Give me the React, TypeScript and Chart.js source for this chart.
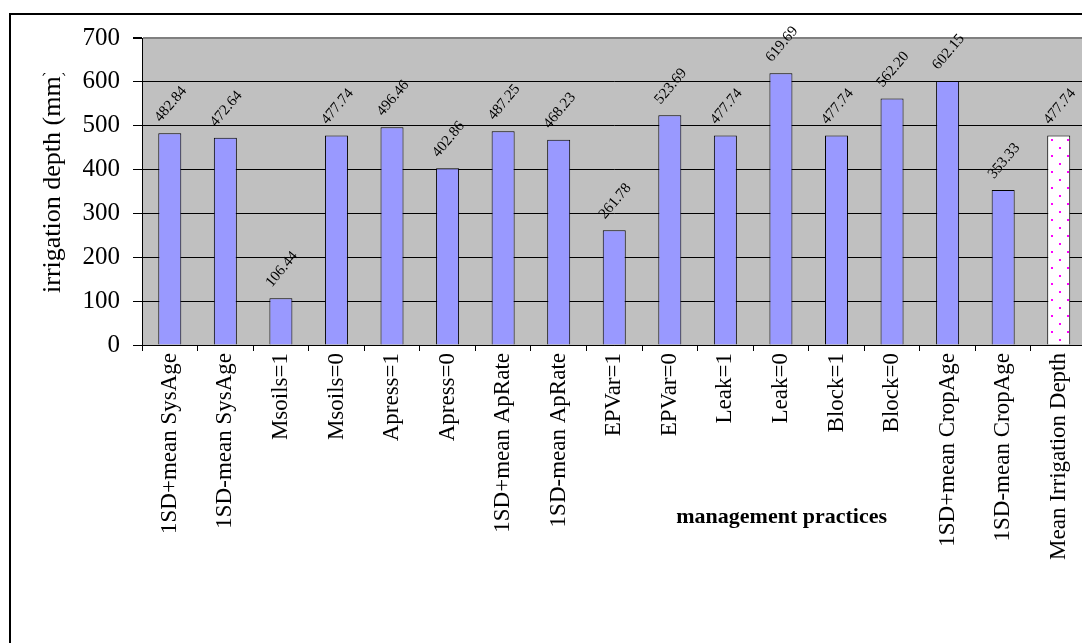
import React, { useEffect, useRef } from "react";
import { Chart, registerables } from "chart.js";

Chart.register(...registerables);

const categories = [
  "1SD+mean SysAge",
  "1SD-mean SysAge",
  "Msoils=1",
  "Msoils=0",
  "Apress=1",
  "Apress=0",
  "1SD+mean ApRate",
  "1SD-mean ApRate",
  "EPVar=1",
  "EPVar=0",
  "Leak=1",
  "Leak=0",
  "Block=1",
  "Block=0",
  "1SD+mean CropAge",
  "1SD-mean CropAge",
  "Mean Irrigation Depth",
];

const depthValues = [
  482.84, 472.64, 106.44, 477.74, 496.46, 402.86, 487.25, 468.23, 261.78,
  523.69, 477.74, 619.69, 477.74, 562.2, 602.15, 353.33, 477.74,
];

const yTicks = [0, 100, 200, 300, 400, 500, 600, 700];

const yTitle = "irrigation depth (mm)";
const xTitle = "management practices";

const SERIF = '"Liberation Serif", "Times New Roman", serif';

function makeDotPattern(): CanvasPattern | string {
  const c = document.createElement("canvas");
  c.width = 16;
  c.height = 16;
  const g = c.getContext("2d");
  if (!g) return "#ffffff";
  g.fillStyle = "#ffffff";
  g.fillRect(0, 0, 16, 16);
  g.fillStyle = "#ff00ff";
  g.fillRect(3, 3, 2, 2);
  g.fillRect(11, 11, 2, 2);
  const p = g.createPattern(c, "repeat");
  return p || "#ffffff";
}

export default function App() {
  const canvasRef = useRef<HTMLCanvasElement | null>(null);

  useEffect(() => {
    const canvas = canvasRef.current;
    if (!canvas) return;
    const pattern = makeDotPattern();
    const bg = depthValues.map((_, i) =>
      i === depthValues.length - 1 ? pattern : "#9999ff"
    );

    const decorPlugin = {
      id: "decor",
      beforeDraw(chart: any) {
        const { ctx, chartArea } = chart;
        ctx.save();
        ctx.fillStyle = "#ffffff";
        ctx.fillRect(0, 0, chart.width, chart.height);
        ctx.fillStyle = "#c0c0c0";
        ctx.fillRect(
          chartArea.left,
          chartArea.top,
          chartArea.right - chartArea.left,
          chartArea.bottom - chartArea.top
        );
        ctx.restore();
      },
      afterDatasetsDraw(chart: any) {
        const { ctx } = chart;
        const meta = chart.getDatasetMeta(0);
        const ang = (50 * Math.PI) / 180;
        ctx.save();
        ctx.font = "15px " + SERIF;
        ctx.fillStyle = "#000";
        ctx.textAlign = "center";
        ctx.textBaseline = "middle";
        meta.data.forEach((el: any, i: number) => {
          const txt = depthValues[i].toFixed(2);
          const w = ctx.measureText(txt).width;
          const h = 10;
          const boxH = w * Math.sin(ang) + h * Math.cos(ang);
          const cy = el.y - 10 - boxH / 2;
          ctx.save();
          ctx.translate(el.x + 1, cy);
          ctx.rotate(-ang);
          ctx.fillText(txt, 0, 0);
          ctx.restore();
        });
        ctx.restore();
      },
      afterDraw(chart: any) {
        const { ctx } = chart;
        ctx.save();
        // outer border
        ctx.strokeStyle = "#000";
        ctx.lineWidth = 2;
        ctx.beginPath();
        ctx.moveTo(10, chart.height + 5);
        ctx.lineTo(10, 14);
        ctx.lineTo(chart.width + 5, 14);
        ctx.stroke();
        // y title (clipped like the original)
        ctx.save();
        ctx.beginPath();
        ctx.rect(0, 73, 140, 400);
        ctx.clip();
        ctx.translate(53, 293);
        ctx.rotate(-Math.PI / 2);
        ctx.font = "26px " + SERIF;
        ctx.fillStyle = "#000";
        ctx.textAlign = "left";
        ctx.textBaseline = "middle";
        ctx.fillText(yTitle, 0, 0);
        ctx.restore();
        // x title
        ctx.font = "bold 22px " + SERIF;
        ctx.fillStyle = "#000";
        ctx.textAlign = "right";
        ctx.textBaseline = "alphabetic";
        ctx.fillText(xTitle, 887, 523);
        ctx.restore();
      },
    };

    const chart = new Chart(canvas, {
      type: "bar",
      data: {
        labels: categories,
        datasets: [
          {
            data: depthValues,
            backgroundColor: bg as any,
            borderColor: "#000",
            borderWidth: 1,
            barPercentage: 1,
            categoryPercentage: 0.414,
          },
        ],
      },
      options: {
        responsive: false,
        animation: false,
        devicePixelRatio: 1,
        layout: { padding: { left: 0, top: 38, right: 13.5, bottom: 0 } },
        plugins: {
          legend: { display: false },
          tooltip: { enabled: false },
          title: { display: false },
        },
        scales: {
          x: {
            afterFit(scale: any) {
              scale.height = 298;
            },
            grid: {
              drawOnChartArea: false,
              drawTicks: true,
              tickLength: 6,
              color: "#000",
              tickColor: "#000",
              offset: true,
            },
            border: { color: "#000", width: 1 },
            ticks: {
              autoSkip: false,
              maxRotation: 90,
              minRotation: 90,
              padding: 2,
              color: "#000",
              font: { family: SERIF, size: 23 },
            },
          },
          y: {
            min: 0,
            max: 700,
            afterFit(scale: any) {
              scale.width = 142;
            },
            afterBuildTicks(scale: any) {
              scale.ticks = yTicks.map((v) => ({ value: v }));
            },
            grid: {
              color: (c: any) =>
                c.tick && c.tick.value === 700 ? "#808080" : "#000",
              lineWidth: (c: any) =>
                c.tick && c.tick.value === 700 ? 2 : 1,
              tickColor: "#000",
              tickLength: 9,
              drawTicks: true,
            },
            border: { color: "#000", width: 1 },
            ticks: {
              padding: 13,
              color: "#000",
              font: { family: SERIF, size: 25 },
            },
          },
        },
      },
      plugins: [decorPlugin],
    } as any);

    return () => chart.destroy();
  }, []);

  return (
    <div
      style={{
        position: "fixed",
        left: 0,
        top: 0,
        width: 1082,
        height: 643,
        overflow: "hidden",
        background: "#fff",
      }}
    >
      <canvas
        ref={canvasRef}
        width={1100}
        height={643}
        style={{ display: "block", width: 1100, height: 643 }}
      />
    </div>
  );
}
